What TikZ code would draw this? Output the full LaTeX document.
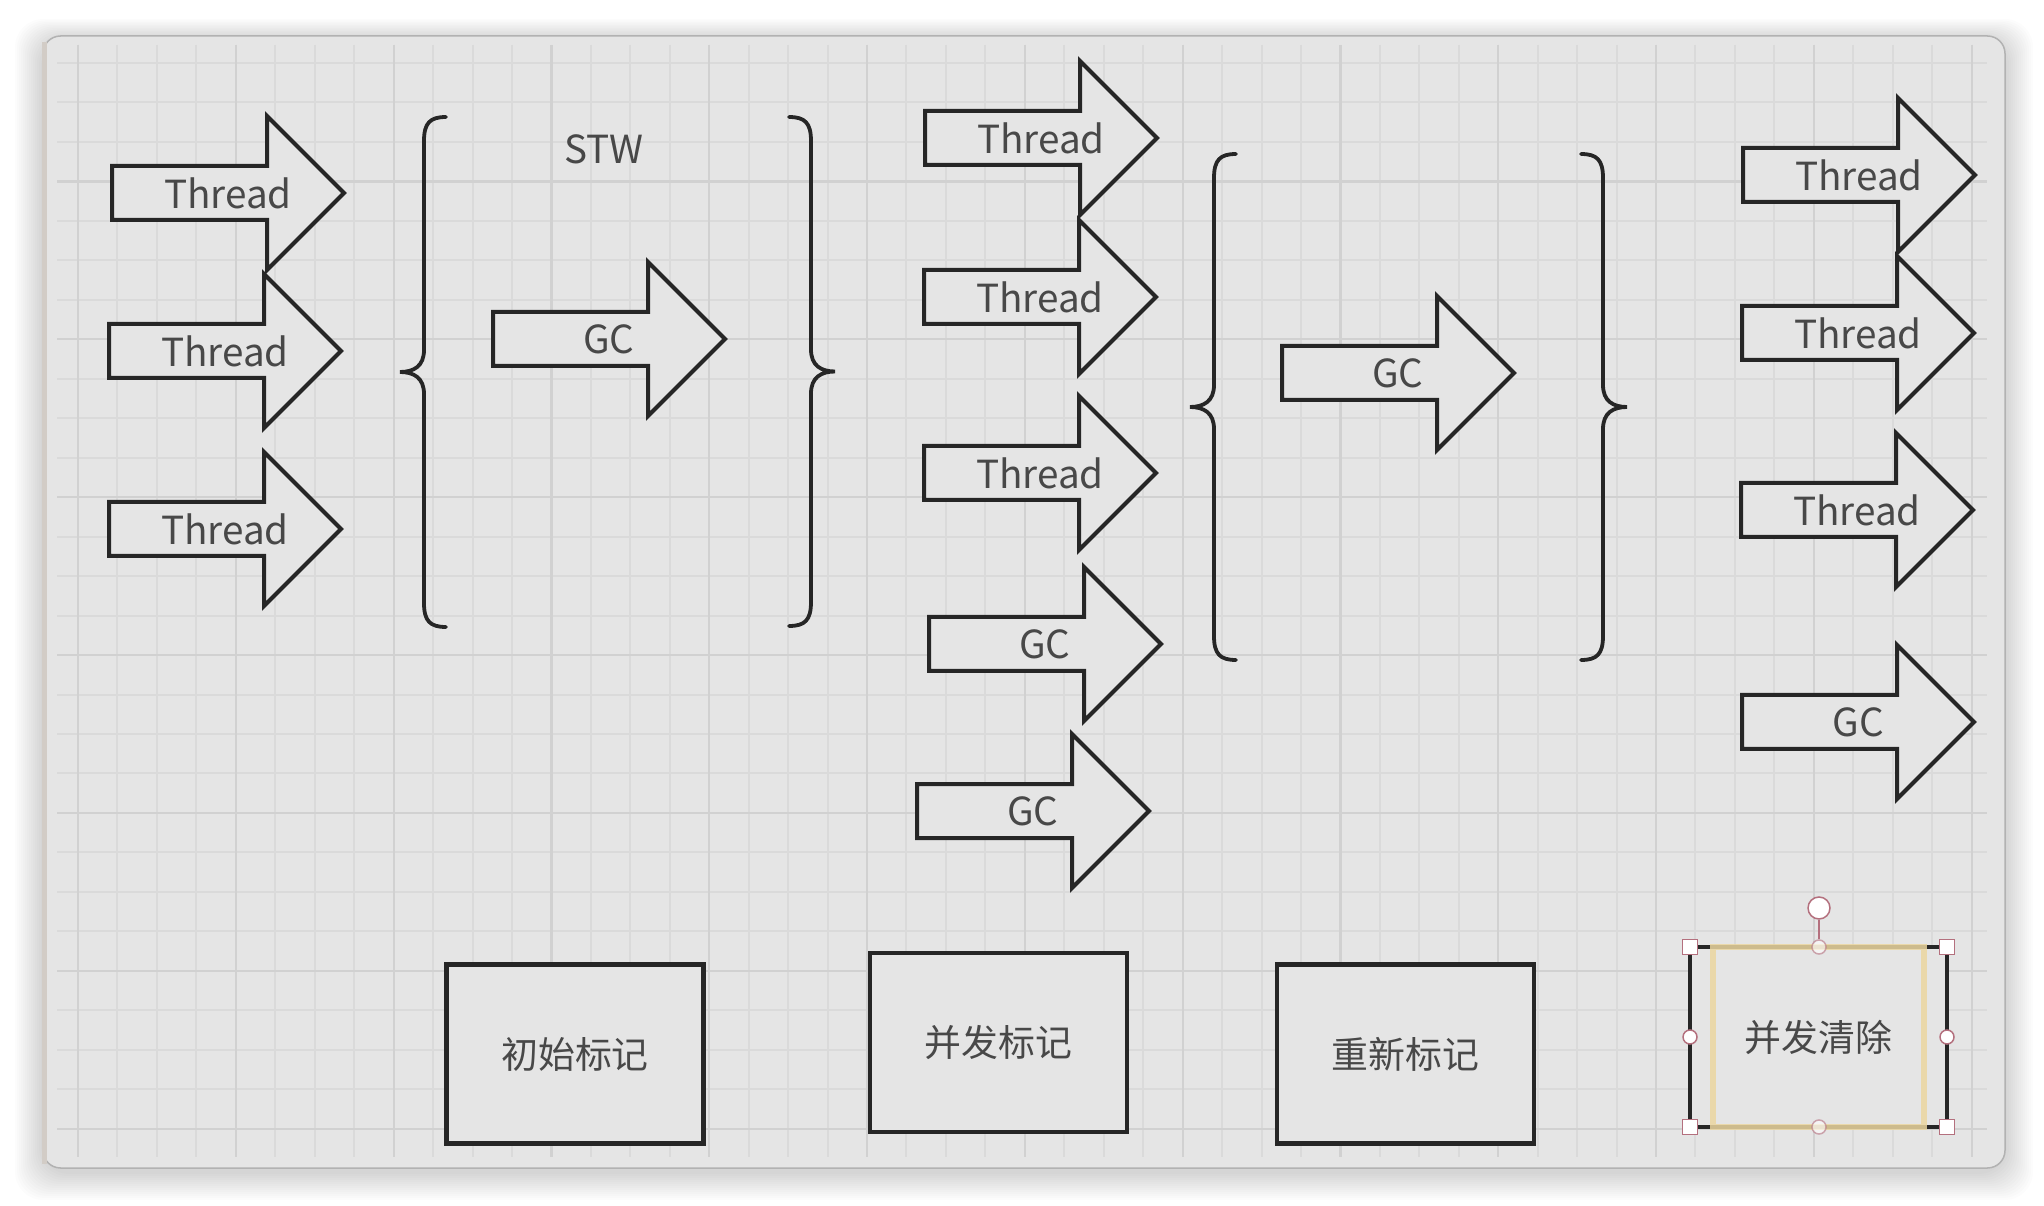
\documentclass[tikz,border=0pt]{standalone}
\usepackage{fontspec}
\setmainfont{Noto Sans CJK SC}
\usetikzlibrary{calc}

\definecolor{canvasgray}{HTML}{E5E5E5}
\definecolor{gridminor}{HTML}{DADADA}
\definecolor{gridmajor}{HTML}{D1D1D1}
\definecolor{inkgray}{HTML}{262626}
\definecolor{textgray}{HTML}{484848}
\definecolor{selyellow}{HTML}{EBD6A0}
\definecolor{handlered}{HTML}{B4707E}

\tikzset{
  outline/.style={draw=inkgray, line width=0.4mm, line join=miter},
  bracestroke/.style={draw=inkgray, line width=0.38mm, line cap=round},
  label/.style={text=textgray, font=\fontsize{11}{13}\selectfont, inner sep=0pt},
  stagebox/.style={draw=inkgray, fill=canvasgray, line width=0.45mm, minimum width=25.7mm,
    minimum height=17.9mm, text=textgray, font=\fontsize{10.5}{12}\selectfont},
  handlesq/.style={draw=handlered, fill=white, line width=0.15mm, minimum size=1.5mm, inner sep=0pt},
  handlecirc/.style={circle, draw=handlered, fill=white, line width=0.15mm, minimum size=1.4mm, inner sep=0pt},
  pics/fatarrow/.style={code={
    \draw[outline, fill=canvasgray] (0,-27) -- (155,-27) -- (155,-77) -- (232,0)
      -- (155,77) -- (155,27) -- (0,27) -- cycle;
    \node[label] (-txt) at (116,0) {#1};
  }},
  pics/curly/.style 2 args={code={
    \draw[bracestroke] ({22*#2},0) .. controls ({6*#2},0) and (0,6) .. (0,24)
      -- (0,{#1/2-22}) .. controls (0,{#1/2-6}) and ({-10*#2},{#1/2}) .. ({-24*#2},{#1/2})
      .. controls ({-10*#2},{#1/2}) and (0,{#1/2+6}) .. (0,{#1/2+22})
      -- (0,{#1-24}) .. controls (0,{#1-6}) and ({6*#2},#1) .. ({22*#2},#1);
  }},
}

\begin{document}
\begin{tikzpicture}[x=0.1mm,y=-0.1mm]
\useasboundingbox (0,0) rectangle (2044,1206);
\fill[white] (0,0) rectangle (2044,1206);

% shadow and canvas
\foreach \s in {1,...,14}
  \fill[black, opacity=0.012, rounded corners=8] ({43-2*\s},{40-1.5*\s}) rectangle ({2005+2*\s},{1172+2*\s});
\fill[canvasgray, draw=gray!60, line width=0.15mm, rounded corners=5] (43,36) rectangle (2005,1168);
\draw[color=brown!25!gray!40, line width=0.5mm] (44,42) -- (44,1164);

% grid
\foreach \k in {0,...,48}
  \draw[gridminor, line width=0.2mm] ({78+39.45*\k},45) -- ({78+39.45*\k},1157);
\foreach \k in {0,...,27}
  \draw[gridminor, line width=0.2mm] (57,{63+39.47*\k}) -- (1987,{63+39.47*\k});
\foreach \k in {0,4,...,48}
  \draw[gridmajor, line width=0.22mm] ({78+39.45*\k},45) -- ({78+39.45*\k},1157);
\foreach \k in {3,7,...,27}
  \draw[gridmajor, line width=0.22mm] (57,{63+39.47*\k}) -- (1987,{63+39.47*\k});

% arrows
\foreach \nm/\x/\y/\t in {lt1/112/193/Thread, lt2/109/351/Thread, lt3/109/529/Thread,
    gca/493/339/GC, mt1/925/138/Thread, mt2/924/297/Thread, mt3/924/473/Thread,
    mg1/929/644/GC, mg2/917/811/GC, gcb/1282/373/GC,
    rt1/1743/175/Thread, rt2/1742/333/Thread, rt3/1741/510/Thread, rg1/1742/722/GC}
  \pic (\nm) at (\x,\y) {fatarrow=\t};

% braces
\pic at (424,117) {curly={510}{1}};
\pic at (811,117) {curly={509}{-1}};
\pic at (1214,154) {curly={506}{1}};
\pic at (1603,154) {curly={506}{-1}};
\node[label] (stw) at (604,149) {STW};

% phases
\node[stagebox] (initmark) at (575,1054) {初始标记};
\node[stagebox] (concmark) at (998.5,1042.5) {并发标记};
\node[stagebox] (remark) at (1405.5,1054) {重新标记};
\node[stagebox, minimum height=18mm] (concclear) at (1818.5,1037) {并发清除};
\draw[selyellow, line width=0.55mm, opacity=0.85] (1713,947) rectangle (1924,1127);

% selection handles
\node[handlesq] (s1) at (1690,947) {};
\node[handlesq] (s2) at (1947,947) {};
\node[handlesq] (s3) at (1690,1127) {};
\node[handlesq] (s4) at (1947,1127) {};
\node[handlecirc] (c1) at (1690,1037) {};
\node[handlecirc] (c2) at (1947,1037) {};
\node[handlecirc, opacity=0.6] (c3) at (1819,947) {};
\node[handlecirc, opacity=0.6] (c4) at (1819,1127) {};
\node[handlecirc, minimum size=2.2mm] (rot) at (1819,908) {};
\draw[handlered, line width=0.2mm] (rot) -- (c3);

\end{tikzpicture}
\end{document}
